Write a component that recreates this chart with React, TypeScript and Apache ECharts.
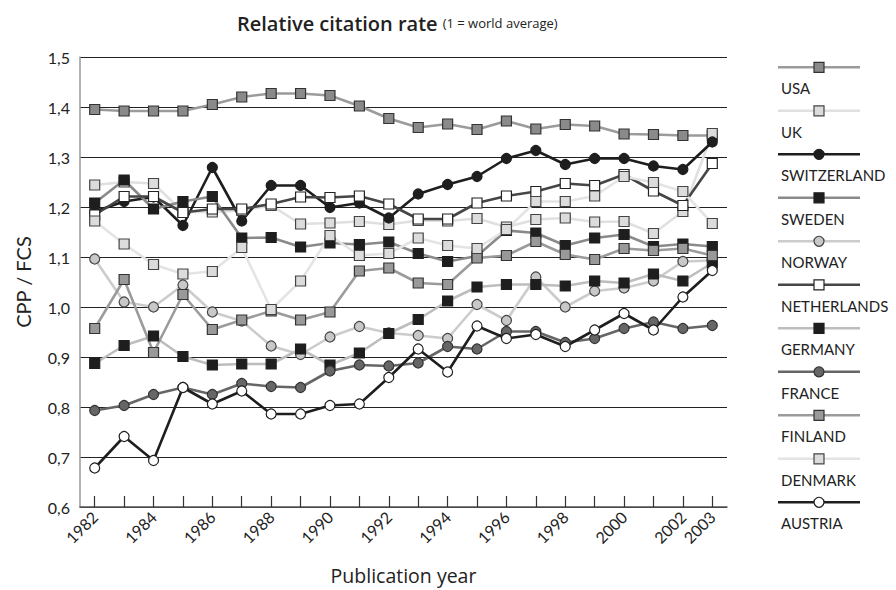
import React, { useEffect, useRef } from "react";
import * as echarts from "echarts";

const years = ["1982", "1983", "1984", "1985", "1986", "1987", "1988", "1989", "1990", "1991", "1992", "1993", "1994", "1995", "1996", "1997", "1998", "1999", "2000", "2001", "2002", "2003"];

const countryNames = ["USA", "UK", "SWITZERLAND", "SWEDEN", "NORWAY", "NETHERLANDS", "GERMANY", "FRANCE", "FINLAND", "DENMARK", "AUSTRIA"];

const usa = [1.395, 1.392, 1.392, 1.392, 1.405, 1.420, 1.427, 1.427, 1.423, 1.402, 1.377, 1.359, 1.366, 1.355, 1.372, 1.356, 1.365, 1.362, 1.346, 1.345, 1.343, 1.343];
const uk = [1.244, 1.250, 1.247, 1.190, 1.190, 1.193, 1.203, 1.166, 1.168, 1.171, 1.165, 1.173, 1.172, 1.177, 1.160, 1.175, 1.178, 1.170, 1.171, 1.147, 1.191, 1.347];
const switzerland = [1.191, 1.211, 1.220, 1.163, 1.279, 1.172, 1.243, 1.243, 1.199, 1.208, 1.178, 1.226, 1.245, 1.261, 1.297, 1.313, 1.285, 1.297, 1.297, 1.282, 1.275, 1.330];
const sweden = [1.208, 1.254, 1.196, 1.211, 1.221, 1.138, 1.139, 1.120, 1.128, 1.125, 1.130, 1.107, 1.091, 1.102, 1.153, 1.148, 1.123, 1.138, 1.145, 1.121, 1.126, 1.121];
const norway = [1.096, 1.010, 1.000, 1.044, 0.990, 0.972, 0.922, 0.905, 0.940, 0.961, 0.948, 0.943, 0.937, 1.005, 0.973, 1.060, 1.000, 1.032, 1.038, 1.052, 1.091, 1.093];
const netherlands = [1.184, 1.221, 1.221, 1.189, 1.196, 1.196, 1.206, 1.220, 1.219, 1.222, 1.206, 1.176, 1.176, 1.208, 1.222, 1.231, 1.247, 1.243, 1.265, 1.232, 1.203, 1.287];
const germany = [0.887, 0.923, 0.942, 0.901, 0.884, 0.886, 0.886, 0.916, 0.884, 0.908, 0.947, 0.975, 1.012, 1.040, 1.045, 1.045, 1.042, 1.052, 1.048, 1.066, 1.052, 1.088];
const france = [0.793, 0.803, 0.825, 0.839, 0.825, 0.847, 0.841, 0.839, 0.872, 0.884, 0.882, 0.888, 0.921, 0.916, 0.951, 0.951, 0.929, 0.937, 0.957, 0.970, 0.957, 0.963];
const finland = [0.957, 1.055, 0.909, 1.025, 0.955, 0.974, 0.992, 0.974, 0.990, 1.072, 1.078, 1.048, 1.045, 1.098, 1.103, 1.131, 1.105, 1.095, 1.117, 1.113, 1.117, 1.103];
const denmark = [1.172, 1.126, 1.085, 1.066, 1.071, 1.119, 0.995, 1.052, 1.143, 1.103, 1.107, 1.138, 1.123, 1.117, 1.155, 1.211, 1.211, 1.222, 1.261, 1.249, 1.231, 1.167];
const austria = [0.678, 0.741, 0.693, 0.839, 0.806, 0.832, 0.786, 0.786, 0.803, 0.806, 0.859, 0.916, 0.870, 0.962, 0.937, 0.945, 0.921, 0.954, 0.987, 0.954, 1.020, 1.073];

const seriesValues = [usa, uk, switzerland, sweden, norway, netherlands, germany, france, finland, denmark, austria];

// styles, kept apart from data
const looks = [
  { symbol: "rect", line: "#9b9b9b", fill: "#8a8a8a", border: "#333333" },
  { symbol: "rect", line: "#e0e0e0", fill: "#dcdcdc", border: "#444444" },
  { symbol: "circle", line: "#1e1e1e", fill: "#1e1e1e", border: "#1e1e1e" },
  { symbol: "rect", line: "#8a8a8a", fill: "#1e1e1e", border: "#1e1e1e" },
  { symbol: "circle", line: "#cccccc", fill: "#c8c8c8", border: "#444444" },
  { symbol: "rect", line: "#464646", fill: "#ffffff", border: "#222222" },
  { symbol: "rect", line: "#bdbdbd", fill: "#1e1e1e", border: "#1e1e1e" },
  { symbol: "circle", line: "#666666", fill: "#666666", border: "#333333" },
  { symbol: "rect", line: "#9b9b9b", fill: "#999999", border: "#333333" },
  { symbol: "rect", line: "#e4e4e4", fill: "#dcdcdc", border: "#444444" },
  { symbol: "circle", line: "#1e1e1e", fill: "#ffffff", border: "#1e1e1e" },
];

const FONT = "Lato, 'Open Sans', sans-serif";
const WIDE = "'Open Sans', Lato, sans-serif";

export default function App() {
  const ref = useRef<HTMLDivElement>(null);

  useEffect(() => {
    if (!ref.current) return;
    const chart = echarts.init(ref.current, null, { renderer: "svg" });

    const series = countryNames.map((name, i) => ({
      type: "line",
      name,
      data: seriesValues[i],
      symbol: looks[i].symbol,
      symbolSize: 10,
      showAllSymbol: true,
      lineStyle: { color: looks[i].line, width: 2.6 },
      itemStyle: { color: looks[i].fill, borderColor: looks[i].border, borderWidth: 1.2 },
      emphasis: { disabled: true },
    }));

    // legend drawn as graphic: line sample above, name below
    const legendEls: any[] = [];
    countryNames.forEach((name, i) => {
      const y = 67.3 + i * 43.5;
      const lk = looks[i];
      legendEls.push({
        type: "line",
        shape: { x1: 778, y1: y, x2: 860, y2: y },
        style: { stroke: lk.line, lineWidth: 2.6 },
      });
      if (lk.symbol === "rect") {
        legendEls.push({
          type: "rect",
          shape: { x: 814, y: y - 5, width: 10, height: 10 },
          style: { fill: lk.fill, stroke: lk.border, lineWidth: 1.2 },
        });
      } else {
        legendEls.push({
          type: "circle",
          shape: { cx: 819, cy: y, r: 5 },
          style: { fill: lk.fill, stroke: lk.border, lineWidth: 1.2 },
        });
      }
      legendEls.push({
        type: "text",
        style: {
          text: name,
          x: 781,
          y: y + 21,
          fill: "#222",
          fontSize: 15,
          fontFamily: FONT,
          verticalAlign: "middle",
          align: "left",
        },
      });
    });

    chart.setOption({
      animation: false,
      title: {
        text: "{a|Relative citation rate} {b|(1 = world average)}",
        left: 232,
        top: 8,
        textStyle: {
          fontWeight: "normal",
          rich: {
            a: { fontSize: 20, fontFamily: WIDE, color: "#222", fontWeight: 600 },
            b: { fontSize: 13, fontFamily: WIDE, color: "#222", fontWeight: "normal" },
          },
        },
      },
      grid: { left: 80, right: 169, top: 57, bottom: 83, containLabel: false },
      xAxis: {
        type: "category",
        data: years,
        boundaryGap: true,
        axisLine: { lineStyle: { color: "#555", width: 1.5 } },
        axisTick: {
          show: true,
          inside: true,
          length: 11,
          alignWithLabel: true,
          interval: 0,
          lineStyle: { color: "#333", width: 1.2 },
        },
        axisLabel: {
          interval: (_i: number, v: string) => Number(v) % 2 === 0 || v === "2003",
          rotate: 45,
          fontSize: 16,
          color: "#222",
          fontFamily: FONT,
          margin: 7,
        },
        splitLine: { show: false },
        name: "Publication year",
        nameLocation: "middle",
        nameGap: 58,
        nameTextStyle: { fontSize: 19.5, color: "#222", fontFamily: WIDE },
      },
      yAxis: {
        type: "value",
        min: 0.6,
        max: 1.5,
        interval: 0.1,
        axisLine: { show: true, lineStyle: { color: "#999", width: 1.5 } },
        axisTick: { show: false },
        axisLabel: {
          formatter: (v: number) => v.toFixed(1).replace(".", ","),
          fontSize: 16,
          color: "#222",
          fontFamily: FONT,
          margin: 10,
        },
        splitLine: { show: true, lineStyle: { color: "#222", width: 1 } },
        name: "CPP / FCS",
        nameLocation: "middle",
        nameGap: 47,
        nameTextStyle: { fontSize: 20, color: "#222", fontFamily: FONT },
      },
      graphic: legendEls,
      series,
    });

    return () => chart.dispose();
  }, []);

  return (
    <div
      ref={ref}
      style={{ width: 896, height: 590, position: "absolute", left: 0, top: 0, background: "#fff" }}
    />
  );
}
